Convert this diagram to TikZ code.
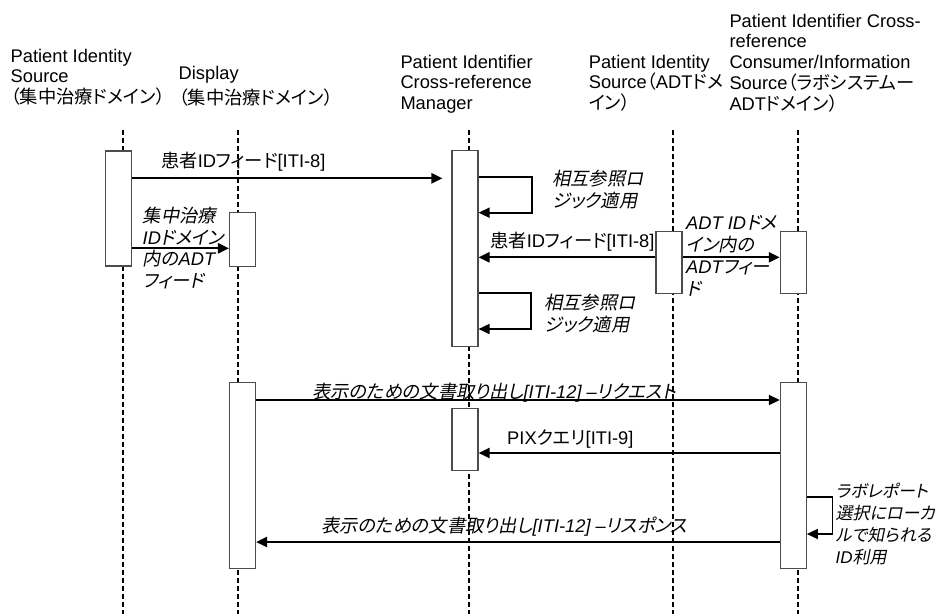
\documentclass[tikz,border=0pt]{standalone}
\usepackage{fontspec}
\setmainfont{Liberation Sans}
\newfontfamily\latinfont{Liberation Sans}
\newfontfamily\jpfont{Noto Sans CJK JP}[RawFeature=+palt, AutoFakeSlant=0.2]
\usetikzlibrary{arrows.meta}
% --- switch to the Japanese font for kana, kanji and full-width forms ---
\XeTeXinterchartokenstate=1
\chardef\jpclass=9
\newcount\jpcode
\def\jprange#1#2{%
  \jpcode=#1\relax
  \loop\ifnum\jpcode<#2\relax
    \XeTeXcharclass\jpcode=\jpclass
    \advance\jpcode by 1
  \repeat}
\jprange{"3000}{"3100}
\jprange{"4E00}{"A000}
\jprange{"FF00}{"FFF0}
\XeTeXinterchartoks 0 \jpclass = {\jpfont}
\XeTeXinterchartoks 1 \jpclass = {\jpfont}
\XeTeXinterchartoks 2 \jpclass = {\jpfont}
\XeTeXinterchartoks 3 \jpclass = {\jpfont}
\XeTeXinterchartoks 4095 \jpclass = {\jpfont}
\XeTeXinterchartoks \jpclass 0 = {\latinfont}
\XeTeXinterchartoks \jpclass 1 = {\latinfont}
\XeTeXinterchartoks \jpclass 2 = {\latinfont}
\XeTeXinterchartoks \jpclass 3 = {\latinfont}
\XeTeXinterchartoks \jpclass 4095 = {\latinfont}
\tikzset{
  lifeline/.style={draw=black, line width=2.2pt, dash pattern=on 5pt off 3pt},
  actbox/.style  ={rectangle, draw=black!70, fill=white, line width=1.1pt, minimum width=26pt, inner sep=0pt},
  msg/.style     ={-{Triangle[length=11pt,width=10pt]}, draw=black, line width=2.3pt},
  selfmsg/.style ={-{Triangle[length=11pt,width=10pt]}, draw=black, line width=1.7pt},
  hdrtext/.style ={anchor=base west, inner sep=0pt, align=left, font=\fontsize{18.3}{20.7}\selectfont},
  msgtext/.style ={anchor=base west, inner sep=0pt, font=\fontsize{18.3}{21.7}\selectfont},
  notetext/.style={anchor=base west, inner sep=0pt, align=left, font=\fontsize{18.3}{21.7}\selectfont\itshape},
}
\begin{document}
\begin{tikzpicture}[x=1pt,y=-1pt]
\useasboundingbox (0,0) rectangle (942,614);
% --- actors (placed at the baseline of their last line) ---
\node[hdrtext] (srchdr)  at (10.5,103.4) {Patient Identity\\Source\\（集中治療ドメイン）};
\node[hdrtext] (disphdr) at (178.5,104.7){Display\\[5pt]（集中治療ドメイン）};
\node[hdrtext] (mgrhdr)  at (400.3,109.6){Patient Identifier\\Cross-reference\\Manager};
\node[hdrtext] (adthdr)  at (588.6,109.6){Patient Identity\\Source（ADTドメ\\イン）};
\node[hdrtext] (conshdr) at (729.3,110)  {Patient Identifier Cross-\\reference\\Consumer/Information\\Source（ラボシステムー\\ADTドメイン）};
% --- lifelines ---
\foreach \n/\x in {src/122.7,disp/238.3,mgr/469,adt/672.7,cons/798.3} {
  \coordinate (\n top) at (\x,130);
  \coordinate (\n bot) at (\x,614);
  \draw[lifeline] (\n top) -- (\n bot);
}
% --- activations ---
\node[actbox, minimum height=115pt]   (src1)  at (118.2,208.5) {};
\node[actbox, minimum height=53.7pt]  (disp1) at (242.5,239.2) {};
\node[actbox, minimum height=195.3pt] (mgr1)  at (465,248.4)   {};
\node[actbox, minimum height=62.3pt]  (adt1)  at (669,262.2)   {};
\node[actbox, minimum height=62.3pt]  (cons1) at (793.3,262.2) {};
\node[actbox, minimum height=186.3pt] (disp2) at (242.5,475.2) {};
\node[actbox, minimum height=61.6pt]  (mgr2)  at (465,439.5)   {};
\node[actbox, minimum height=186.7pt] (cons2) at (793.3,475.4) {};
% --- messages ---
\draw[msg, shorten >=9pt] (src1.east |- 0,178.3) -- (mgr1.west |- 0,178.3);
\draw[msg] (src1.east |- 0,248.3) -- (disp1.west |- 0,248.3);
\draw[selfmsg] (mgr1.east |- 0,177.3) -- ++(53.2,0) |- (mgr1.east |- 0,212.7);
\draw[msg] (adt1.west |- 0,257.3) -- (mgr1.east |- 0,257.3);
\draw[msg] (adt1.east |- 0,257.3) -- (cons1.west |- 0,257.3);
\draw[selfmsg] (mgr1.east |- 0,293.3) -- ++(52.5,0) |- (mgr1.east |- 0,329);
\draw[msg] (disp2.east |- 0,400) -- (cons2.west |- 0,400);
\draw[msg] (cons2.west |- 0,453) -- (mgr2.east |- 0,453);
\draw[selfmsg] (cons2.east |- 0,496.7) -- ++(25.5,0) |- (cons2.east |- 0,534);
\draw[msg] (cons2.west |- 0,542) -- (disp2.east |- 0,542);
% --- message labels (multi-line ones at the baseline of their last line) ---
\node[msgtext]  (feedlbl)   at (161,167)   {患者IDフィード[ITI-8]};
\node[notetext] (icufeed)   at (142.5,287.5) {集中治療\\IDドメイン\\内のADT\\フィード};
\node[notetext] (xref1)     at (552,207)   {相互参照ロ\\ジック適用};
\node[msgtext]  (adtfeedlbl)at (490,247)   {患者IDフィード[ITI-8]};
\node[notetext] (adtfeed)   at (686,295)   {ADT IDドメ\\イン内の\\ADTフィー\\ド};
\node[notetext] (xref2)     at (544,331)   {相互参照ロ\\ジック適用};
\node[notetext] (reqlbl)    at (312,398)   {表示のための文書取り出し[ITI-12] –リクエスト};
\node[msgtext]  (pixlbl)    at (507,444)   {PIXクエリ[ITI-9]};
\node[notetext, font=\fontsize{17}{22}\selectfont\itshape] (locallbl) at (835.5,563.5) {ラボレポート\\選択にローカ\\ルで知られる\\ID利用};
\node[notetext] (resplbl)   at (321,532)   {表示のための文書取り出し[ITI-12] –リスポンス};
\end{tikzpicture}
\end{document}
